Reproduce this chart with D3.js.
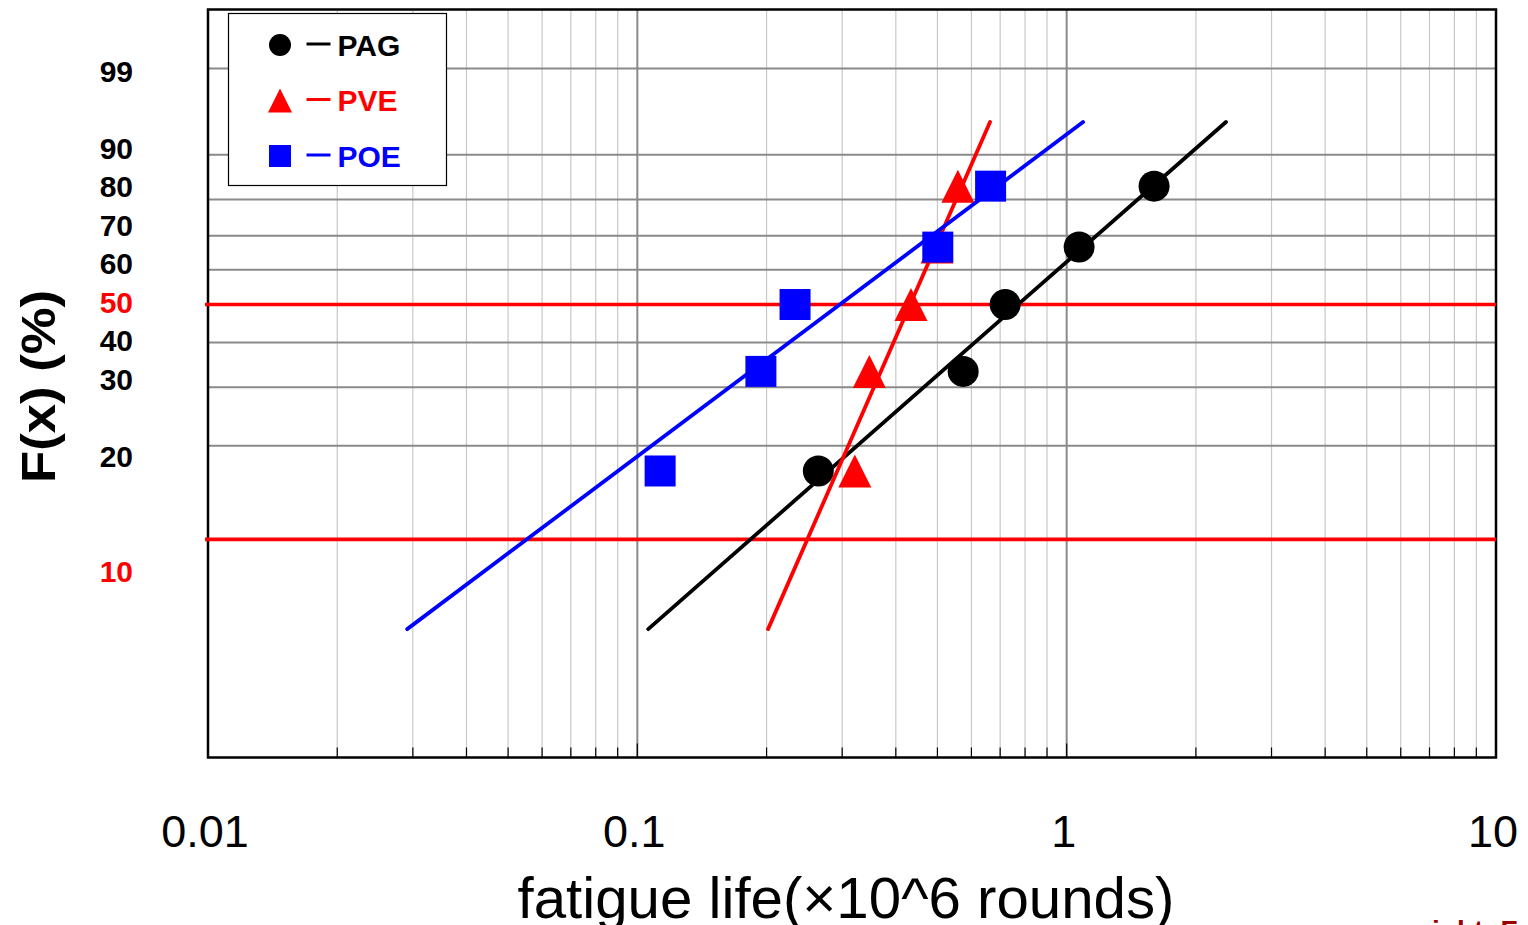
<!DOCTYPE html>
<html>
<head>
<meta charset="utf-8">
<script src="https://cdn.jsdelivr.net/npm/d3@7"></script>
<style>
  html, body { margin: 0; padding: 0; background: #ffffff; overflow: hidden; }
  text { font-family: "Liberation Sans", Arial, sans-serif; }
</style>
</head>
<body>
<svg id="chart" width="1528" height="925"></svg>
<script>
// ---- data -------------------------------------------------------------
const seriesNames   = ["PAG", "PVE", "POE"];
const seriesColors  = ["#000000", "#ff0000", "#0000ff"];
const seriesSymbols = ["circle", "triangle", "square"];

// cumulative failure probability (mean rank i/(n+1)), %
const cumPercent = [16.67, 33.33, 50, 66.67, 83.33];
// fatigue life, x10^6 rounds
const pagLife = [0.264, 0.574, 0.719, 1.069, 1.598];
const pveLife = [0.321, 0.347, 0.434, 0.499, 0.558];
const poeLife = [0.113, 0.194, 0.233, 0.501, 0.665];

// Weibull fit lines, life at F = 5 % and F = 95 %
const fitPercent = [5, 95];
const pagFit = [0.106, 2.35];
const pveFit = [0.2016, 0.663];
const poeFit = [0.0291, 1.092];

const gridPercent = [99, 90, 80, 70, 60, 50, 40, 30, 20, 10];
const refPercent  = [50, 10];
const yLabelLines = ["99", "", "90", "80", "70", "60", "50", "40", "30", "", "20", "", "", "10"];
const xTickValues = [0.01, 0.1, 1, 10];
const xTitle = "fatigue life(\u00d710^6 rounds)";
const yTitle = "F(x) (%)";
const noteText = "right: F";

// ---- layout -----------------------------------------------------------
const plot = { left: 208, right: 1496, top: 9.5, bottom: 757.5 };
const svg = d3.select("#chart");

// Weibull probability transform
const weib = p => Math.log(-Math.log(1 - p / 100));

const x = d3.scaleLog().domain([0.01, 10]).range([plot.left, plot.right]);
const y = d3.scaleLinear().domain([-4, 2]).range([plot.bottom, plot.top]);

// ---- grid -------------------------------------------------------------
const allXTicks = x.ticks();
const isMajor = v => Math.abs(Math.log10(v) - Math.round(Math.log10(v))) < 1e-9;

const grid = svg.append("g");
grid.selectAll("line.minor")
  .data(allXTicks.filter(v => !isMajor(v)))
  .join("line")
  .attr("x1", d => x(d)).attr("x2", d => x(d))
  .attr("y1", plot.top).attr("y2", plot.bottom)
  .attr("stroke", "#c8c8c8").attr("stroke-width", 1.2);

grid.selectAll("line.major")
  .data(xTickValues.filter(v => v > 0.01 && v < 10))
  .join("line")
  .attr("x1", d => x(d)).attr("x2", d => x(d))
  .attr("y1", plot.top).attr("y2", plot.bottom)
  .attr("stroke", "#8a8a8a").attr("stroke-width", 2);

grid.selectAll("line.h")
  .data(gridPercent.filter(p => !refPercent.includes(p)))
  .join("line")
  .attr("x1", plot.left).attr("x2", plot.right)
  .attr("y1", d => y(weib(d))).attr("y2", d => y(weib(d)))
  .attr("stroke", "#8a8a8a").attr("stroke-width", 2);

// bottom axis ticks (inside)
svg.append("g").selectAll("line")
  .data(allXTicks)
  .join("line")
  .attr("x1", d => x(d)).attr("x2", d => x(d))
  .attr("y1", plot.bottom).attr("y2", d => plot.bottom - (isMajor(d) ? 14 : 10))
  .attr("stroke", "#000").attr("stroke-width", 1.2);

// frame
svg.append("rect")
  .attr("x", plot.left).attr("y", plot.top)
  .attr("width", plot.right - plot.left).attr("height", plot.bottom - plot.top)
  .attr("fill", "none").attr("stroke", "#000").attr("stroke-width", 2.5);

// red reference lines
svg.append("g").selectAll("line")
  .data(refPercent)
  .join("line")
  .attr("x1", plot.left - 3).attr("x2", plot.right)
  .attr("y1", d => y(weib(d))).attr("y2", d => y(weib(d)))
  .attr("stroke", "#ff0000").attr("stroke-width", 3.6);

// ---- series -----------------------------------------------------------
function symbolPath(kind, size) {
  const h = size / 2;
  if (kind === "circle") return d3.arc()({ innerRadius: 0, outerRadius: h, startAngle: 0, endAngle: 2 * Math.PI });
  if (kind === "square") return `M${-h},${-h}H${h}V${h}H${-h}Z`;
  return `M0,${-h}L${h},${h}L${-h},${h}Z`;
}
const markerSize = { circle: 31, square: 31, triangle: 33 };
const legendSize = { circle: 22, square: 22, triangle: 24 };

const lifeData = [pagLife, pveLife, poeLife];
const fitData = [pagFit, pveFit, poeFit];

const line = d3.line().x(d => x(d[0])).y(d => y(weib(d[1])));

seriesNames.forEach((name, i) => {
  const g = svg.append("g");
  g.append("path")
    .datum(fitData[i].map((v, k) => [v, fitPercent[k]]))
    .attr("d", line)
    .attr("fill", "none")
    .attr("stroke", seriesColors[i])
    .attr("stroke-width", 3.8)
    .attr("stroke-linecap", "round");
  g.selectAll("path.m")
    .data(lifeData[i].map((v, k) => [v, cumPercent[k]]))
    .join("path")
    .attr("class", "m")
    .attr("transform", d => `translate(${x(d[0])},${y(weib(d[1]))})`)
    .attr("d", symbolPath(seriesSymbols[i], markerSize[seriesSymbols[i]]))
    .attr("fill", seriesColors[i]);
});

// ---- legend -----------------------------------------------------------
const lg = svg.append("g").attr("transform", "translate(228.5,13.5)");
lg.append("rect").attr("width", 218).attr("height", 172)
  .attr("fill", "#fff").attr("stroke", "#000").attr("stroke-width", 1.2);
seriesNames.forEach((name, i) => {
  const row = lg.append("g").attr("transform", `translate(0,${31.5 + i * 55.5})`);
  row.append("path")
    .attr("transform", "translate(51.5,0)")
    .attr("d", symbolPath(seriesSymbols[i], legendSize[seriesSymbols[i]]))
    .attr("fill", seriesColors[i]);
  row.append("line").attr("x1", 78).attr("x2", 102).attr("y1", -1).attr("y2", -1)
    .attr("stroke", seriesColors[i]).attr("stroke-width", 3);
  row.append("text").attr("x", 109).attr("y", 10.5)
    .attr("font-size", 30).attr("font-weight", "bold")
    .attr("fill", seriesColors[i]).text(name);
});

// ---- axis labels ------------------------------------------------------
svg.append("g").selectAll("text")
  .data(xTickValues)
  .join("text")
  .attr("x", d => x(d) - 3).attr("y", 847)
  .attr("text-anchor", "middle")
  .attr("font-size", 45)
  .attr("fill", "#000")
  .text(d => d3.format("~g")(d));

svg.append("g").selectAll("text")
  .data(yLabelLines)
  .join("text")
  .attr("x", 133).attr("y", (d, i) => 81.5 + i * 38.5)
  .attr("text-anchor", "end")
  .attr("font-size", 30).attr("font-weight", "bold")
  .attr("fill", d => refPercent.includes(+d) && d !== "" ? "#ff0000" : "#000")
  .text(d => d);

svg.append("text")
  .attr("x", 846).attr("y", 918)
  .attr("text-anchor", "middle")
  .attr("font-size", 57)
  .attr("textLength", 657).attr("lengthAdjust", "spacingAndGlyphs")
  .text(xTitle);

svg.append("text")
  .attr("transform", "translate(55,386.5) rotate(-90)")
  .attr("text-anchor", "middle")
  .attr("font-size", 48).attr("font-weight", "bold")
  .attr("textLength", 193).attr("lengthAdjust", "spacingAndGlyphs")
  .text(yTitle);

// small note at the lower right edge
const note = svg.append("text")
  .attr("x", 1400).attr("y", 940)
  .attr("font-family", "'Liberation Serif', 'Times New Roman', serif")
  .attr("font-size", 28).attr("font-weight", "bold")
  .attr("fill", "#990000")
  .text(noteText);
const iPos = note.node().getStartPositionOfChar(noteText.indexOf("i")).x;
note.attr("x", 1400 + (1432 - iPos));
</script>
</body>
</html>
